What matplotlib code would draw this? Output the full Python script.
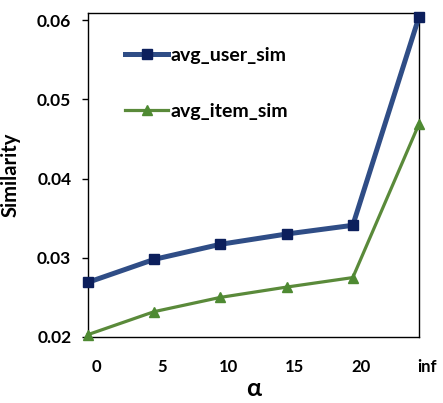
import numpy as np
import matplotlib
matplotlib.rcParams['font.family'] = ['Lato', 'DejaVu Sans']
matplotlib.rcParams['font.weight'] = 'bold'
matplotlib.rcParams['axes.labelweight'] = 'bold'
import matplotlib.pyplot as plt
from matplotlib.transforms import ScaledTranslation

alpha_labels = ['0', '5', '10', '15', '20', 'inf']
avg_user_sim = [0.0269, 0.0298, 0.0317, 0.0330, 0.0341, 0.0604]
avg_item_sim = [0.0203, 0.0232, 0.0250, 0.0263, 0.0275, 0.0469]

fig = plt.figure(figsize=(4.43, 4.03), dpi=100)
ax = fig.add_axes([0.1986, 0.1638, 0.7472, 0.8039])

x = np.arange(len(alpha_labels))
ax.plot(x, avg_user_sim, color='#2f4d86', lw=3.6, marker='s', ms=7,
        mfc='#0c1f5c', mec='#0c1f5c', label='avg_user_sim', clip_on=False, zorder=3)
ax.plot(x, avg_item_sim, color='#5a8a3a', lw=2.3, marker='^', ms=7.5,
        mfc='#4e8a32', mec='#4e8a32', label='avg_item_sim', clip_on=False, zorder=3)

ax.set_xlim(0, 5)
ax.set_ylim(0.02, 0.0609)
ax.set_yticks([0.02, 0.03, 0.04, 0.05, 0.06])
ax.set_yticklabels(['0.02', '0.03', '0.04', '0.05', '0.06'])
ax.set_xticks(x)
ax.set_xticklabels(alpha_labels)
ax.tick_params(axis='y', direction='out', length=4, width=1, pad=8, labelsize=12.5)
ax.tick_params(axis='x', length=0, pad=16, labelsize=12)
offset = ScaledTranslation(0.08, 0, fig.dpi_scale_trans)
for lab in ax.get_xticklabels():
    lab.set_transform(lab.get_transform() + offset)

for s in ax.spines.values():
    s.set_linewidth(1)
ax.set_xlabel('α', fontsize=18, labelpad=1)
ax.set_ylabel('Similarity', fontsize=14.5, labelpad=12)

ax.legend(loc='upper left', bbox_to_anchor=(0.06, 0.95), frameon=False,
          fontsize=14, labelspacing=2.0, handlelength=2.2, handletextpad=0.1)

plt.savefig('out.png', dpi=100)
